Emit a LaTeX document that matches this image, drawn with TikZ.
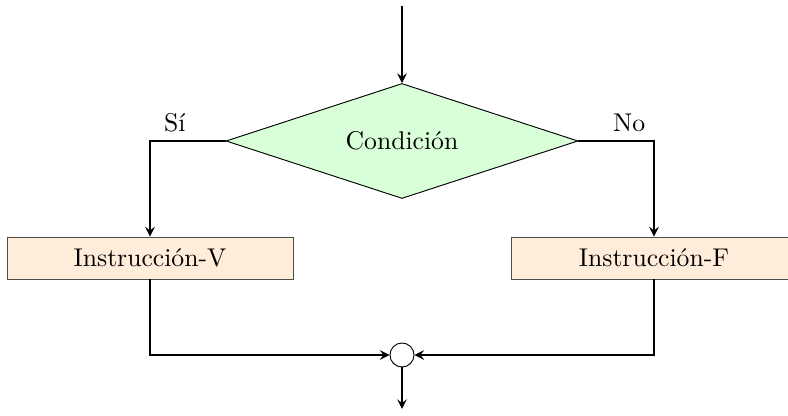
\documentclass[tikz,border=0pt]{standalone}
\usetikzlibrary{shapes.geometric}

\tikzstyle{decision}=[diamond,aspect=3,draw,fill=green!15,inner sep=0pt,minimum width=5.28cm,minimum height=1.725cm]
\tikzstyle{instr}=[rectangle,draw=black!70,fill=orange!15,minimum width=4.29cm,minimum height=0.63cm]
\tikzstyle{joint}=[circle,draw,minimum size=0.36cm,inner sep=0pt]
\tikzstyle{flow}=[->,>=stealth,thick]

\begin{document}
\begin{tikzpicture}[font=\fontsize{10.95}{13.6}\selectfont]
		\useasboundingbox (0,0) rectangle (11.82,6.24);
		\coordinate (in) at (6.03,6.15);
		\node[decision] (cond) at (6.03,4.125) {Condición};
		\node[instr] (instv) at (2.25,2.37) {Instrucción-V};
		\node[instr] (instf) at (9.81,2.37) {Instrucción-F};
		\node[joint] (join) at (6.03,0.915) {};
		\coordinate (out) at (6.03,0.105);
    		% Then the connectors
		\draw[flow] (in) -- (cond);
		\draw[flow] (cond.west) -- node[above,pos=0.67] {Sí} (cond.west -| instv) -- (instv);
		\draw[flow] (cond.east) -- node[above,pos=0.67] {No} (cond.east -| instf) -- (instf);
		\draw[flow] (instv) |- (join);
		\draw[flow] (instf) |- (join);
		\draw[flow] (join) -- (out);
\end{tikzpicture}
\end{document}
